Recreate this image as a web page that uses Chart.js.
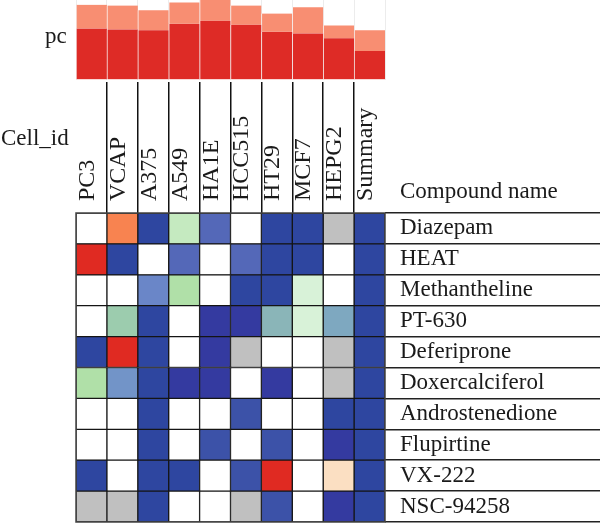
<!DOCTYPE html>
<html><head><meta charset="utf-8">
<script src="https://cdn.jsdelivr.net/npm/chart.js@4.4.1/dist/chart.umd.min.js"></script>
<style>
html,body{margin:0;padding:0;background:#fff;}
#wrap{position:relative;width:600px;height:524px;overflow:hidden;background:#fff;}
#bars{position:absolute;left:0;top:0;}
#heat{position:absolute;left:0;top:82px;}
</style></head><body>
<div id="wrap"><canvas id="bars" width="600" height="82"></canvas><canvas id="heat" width="600" height="442"></canvas></div>
<script>
// ---- data ----
const cellIds = ['PC3','VCAP','A375','A549','HA1E','HCC515','HT29','MCF7','HEPG2','Summary'];
const compounds = ['Diazepam','HEAT','Methantheline','PT-630','Deferiprone','Doxercalciferol','Androstenedione','Flupirtine','VX-222','NSC-94258'];
const barTitle = 'pc';
const cellTitle = 'Cell_id';
const compoundTitle = 'Compound name';

// stacked "pc" bars above the heatmap (fraction of full height)
const pcDark  = [0.64, 0.63, 0.62, 0.70, 0.74, 0.69, 0.60, 0.58, 0.52, 0.36];
const pcLight = [0.30, 0.30, 0.25, 0.27, 0.26, 0.24, 0.23, 0.33, 0.16, 0.26];

// connectivity scores per compound, one value per cell id (null = not available)
const sDiazepam        = [   0,   80,  -95,  -40,  -85,    0,  -95,  -95, null, -95];
const sHEAT            = [ 100,  -95,    0,  -85,    0,  -85,  -95,  -95,    0, -95];
const sMethantheline   = [   0,    0,  -80,  -50,    0,  -95,  -95,  -30,    0, -95];
const sPT630           = [   0,  -60,  -95,    0, -100, -100,  -65,  -30,  -70, -95];
const sDeferiprone     = [ -95,  100,  -95,    0, -100, null,    0,    0, null, -95];
const sDoxercalciferol = [ -50,  -75,  -95, -100, -100,    0, -100,    0, null, -95];
const sAndrostenedione = [   0,    0,  -95,    0,    0,  -90,    0,    0,  -95, -95];
const sFlupirtine      = [   0,    0,  -95,    0,  -90,    0,  -90,    0, -100, -95];
const sVX222           = [ -95,    0,  -95,  -95,    0,  -90,  100,    0,   50, -95];
const sNSC94258        = [null, null,  -95,    0,    0, null,  -90,    0, -100, -95];
const scoreRows = [sDiazepam, sHEAT, sMethantheline, sPT630, sDeferiprone, sDoxercalciferol,
                   sAndrostenedione, sFlupirtine, sVX222, sNSC94258];

// ---- colour scale ----
const stops = [
  [-100,'#343AA0'],[-95,'#2E46A0'],[-90,'#3C52A8'],[-85,'#5468B8'],[-80,'#6A86C8'],
  [-75,'#7294C8'],[-70,'#7EA8C0'],[-65,'#8AB5B8'],[-60,'#9CCCAE'],[-50,'#B0E0A8'],
  [-40,'#C5EAC0'],[-30,'#D8F2D8'],[0,'#FFFFFF'],[50,'#FBDFC2'],[80,'#F88350'],[100,'#E02A22']
];
const naColor = '#C0C0C0';
function hex2rgb(h){return [parseInt(h.substr(1,2),16),parseInt(h.substr(3,2),16),parseInt(h.substr(5,2),16)];}
function scoreColor(v){
  if (v === null || v === undefined) return naColor;
  if (v <= stops[0][0]) return stops[0][1];
  for (let k=1;k<stops.length;k++){
    if (v <= stops[k][0]){
      const [a,ca]=stops[k-1],[b,cb]=stops[k];
      const t=(v-a)/(b-a), A=hex2rgb(ca), B=hex2rgb(cb);
      return 'rgb('+A.map((x,i)=>Math.round(x+(B[i]-x)*t)).join(',')+')';
    }
  }
  return stops[stops.length-1][1];
}

const FONT = "'Liberation Serif','Times New Roman',serif";
Chart.defaults.font.family = FONT;
Chart.defaults.color = '#1a1a1a';

// ---- top bar chart ----
const pcLabelPlugin = {
  id:'pcLabel',
  afterDraw(chart){
    const c=chart.ctx; c.save();
    c.font='23px '+FONT; c.fillStyle='#1a1a1a'; c.textAlign='left'; c.textBaseline='alphabetic';
    c.fillText(barTitle, 45, 43);
    c.restore();
  }
};
new Chart(document.getElementById('bars'), {
  type:'bar',
  data:{labels:cellIds, datasets:[
    {label:'pc', data:pcDark, backgroundColor:'#DE2B26', borderColor:'rgba(255,255,255,0.45)',
     borderWidth:{left:1,right:0,top:0,bottom:0}, borderSkipped:false, barPercentage:1, categoryPercentage:1},
    {label:'pc rest', data:pcLight, backgroundColor:'#F88E72', borderColor:'rgba(255,255,255,0.45)',
     borderWidth:{left:1,right:0,top:0,bottom:0}, borderSkipped:false, barPercentage:1, categoryPercentage:1}
  ]},
  options:{
    responsive:false, animation:false,
    layout:{padding:{left:76,right:215,top:0,bottom:2.5}},
    plugins:{legend:{display:false}, tooltip:{enabled:false}},
    scales:{
      x:{stacked:true, display:true, grid:{offset:true,color:'#ececec',drawTicks:false},
         border:{display:false}, ticks:{display:false}, afterFit:s=>{s.height=0;}},
      y:{stacked:true, display:false, min:0, max:1}
    }
  },
  plugins:[pcLabelPlugin]
});

// ---- heatmap ----
const heatDecor = {
  id:'heatDecor',
  afterDatasetsDraw(chart){
    const c=chart.ctx, a=chart.chartArea; c.save();
    c.strokeStyle='#444'; c.lineWidth=1.5;
    c.strokeRect(a.left, a.top, a.right-a.left, a.bottom-a.top);
    c.restore();
  },
  afterDraw(chart){
    const c=chart.ctx; c.save();
    c.font='23px '+FONT; c.fillStyle='#1a1a1a'; c.textBaseline='alphabetic'; c.textAlign='left';
    c.fillText(cellTitle, 1, 63);
    c.fillText(compoundTitle, 400, 116);
    c.restore();
  }
};
new Chart(document.getElementById('heat'), {
  type:'bar',
  data:{
    labels:compounds,
    datasets:cellIds.map((id,j)=>({
      label:id,
      data:compounds.map(()=>1),
      backgroundColor:scoreRows.map(r=>scoreColor(r[j])),
      borderColor:'#151515', borderWidth:1, borderSkipped:false,
      barPercentage:1, categoryPercentage:1, xAxisID:'x', yAxisID:'y'
    }))
  },
  options:{
    indexAxis:'y', responsive:false, animation:false,
    layout:{padding:{left:76,right:0,top:0,bottom:2}},
    plugins:{legend:{display:false}, tooltip:{enabled:false}},
    scales:{
      x:{type:'linear', stacked:true, display:false, min:0, max:cellIds.length},
      y:{type:'category', position:'right', stacked:true, offset:true,
         grid:{offset:true, drawOnChartArea:false, tickLength:215, color:'#222', lineWidth:1.5},
         border:{display:false},
         ticks:{padding:-200, autoSkip:false, font:{size:23}, color:'#1a1a1a'},
         afterFit:s=>{s.width=215;}},
      x2:{type:'category', position:'top', labels:cellIds, offset:true,
          grid:{offset:true, drawOnChartArea:false, tickLength:131, lineWidth:1.5,
                color:ctx=>(ctx.type!=='tick'||ctx.index===0)?'rgba(0,0,0,0)':'#111'},
          border:{display:false},
          ticks:{minRotation:90, maxRotation:90, padding:-119, labelOffset:25, autoSkip:false, font:{size:24}, color:'#1a1a1a'},
          afterFit:s=>{s.height=131;}}
    }
  },
  plugins:[heatDecor]
});
</script>
</body></html>
